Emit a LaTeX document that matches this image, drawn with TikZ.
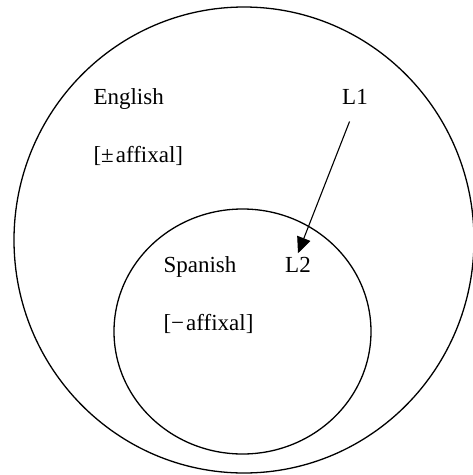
\documentclass[tikz,border=0pt]{standalone}
\usepackage{fontspec}
\setmainfont{Liberation Serif}
\usetikzlibrary{arrows.meta}

\begin{document}
\begin{tikzpicture}[x=1pt, y=-1pt, font=\fontsize{23}{27}\selectfont]
        \useasboundingbox (0,0) rectangle (473,475);
        \draw[line width=1.3pt] (244,240) ellipse[x radius=230, y radius=233];
        \draw[line width=1.3pt] (242.5,331.5) ellipse[x radius=128.5, y radius=122.5];
        \node[anchor=base west] (english) at (90,104) {English};
        \node[anchor=base west] (plusminus) at (90,162) {[±\kern2pt affixal]};
        \node[anchor=base] (L1) at (355,104) {L1};
        \node[anchor=base west] (spanish) at (160,272) {Spanish};
        \node[anchor=base] (L2) at (298,272) {L2};
        \node[anchor=base west] (minus) at (160,330) {[−\kern2pt affixal]};
        \draw[-{Triangle[length=16,width=14]}, line width=1.1pt, shorten <=15pt] (L1.south) -- (L2.north);
    \end{tikzpicture}
\end{document}
